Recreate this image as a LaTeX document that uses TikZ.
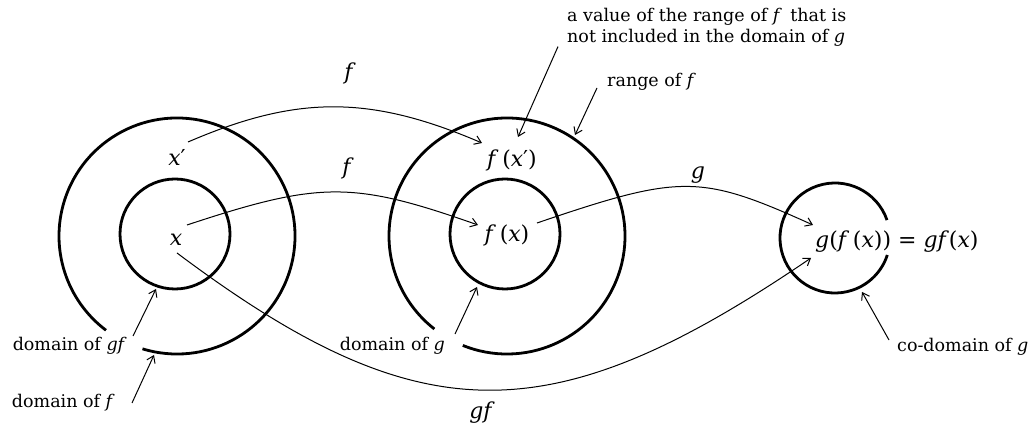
\documentclass[tikz,border=0pt]{standalone}
\usepackage{fontspec}
\setmainfont{DejaVu Serif}
\usetikzlibrary{arrows.meta,calc}
\begin{document}
\begin{tikzpicture}[x=1pt,y=-1pt,
  ring/.style={line width=2.8pt},
  conn/.style={line width=1pt,-{Straight Barb[length=6.5pt,width=9pt,line width=1pt]}},
  lbl/.style={font=\fontsize{17.5}{21}\selectfont, inner sep=0pt},
  mth/.style={font=\fontsize{22}{26}\selectfont, inner sep=0pt}]
\useasboundingbox (0,0) rectangle (1034,427);

% sets
\coordinate (LC) at (177,236);
\coordinate (LI) at (175,234);
\coordinate (MC) at (507,236);
\coordinate (MI) at (505,234);
\coordinate (RC) at (835,238);
\draw[ring] (LC) ++(253:118pt) arc[start angle=253, end angle=593, radius=118pt];
\draw[ring] (LI) circle[radius=55pt];
\draw[ring] (MC) ++(248:118pt) arc[start angle=248, end angle=592, radius=118pt];
\draw[ring] (MI) circle[radius=55pt];
\draw[ring] (RC) ++(19:55pt) arc[start angle=19, end angle=342, radius=55pt];

% elements
\node[mth] (xp) at (177,157) {\textit{x}′};
\node[mth] (x) at (176,240) {\textit{x}};
\node[mth] (fxp) at (512,160) {\textit{f}\,(\textit{x}′)};
\node[mth] (fx) at (507,235) {\textit{f}\,(\textit{x})};
\node[mth, anchor=west] (gfx) at (815,242) {\textit{g}(\textit{f}\,(\textit{x})) = \textit{gf}(\textit{x})};

% function labels
\node[mth] (lf1) at (350,73) {\textit{f}};
\node[mth] (lf2) at (348,168) {\textit{f}};
\node[mth] (lg) at (698,175) {\textit{g}};
\node[mth] (lgf) at (482,413) {\textit{gf}};

% mapping arrows
\draw[conn] ($(xp)+(11,-15)$) .. controls (297,95) and (370,95) .. ($(fxp)+(-30,-17)$);
\draw[conn] ($(x)+(11,-15)$) .. controls (320,181) and (353,181) .. ($(fx)+(-29,-10)$);
\draw[conn] ($(fx)+(30,-12)$) .. controls (681,174) and (700,174) .. ($(gfx.west)+(-2,-17)$);
\draw[conn] ($(x)+(1,13)$) .. controls (420,435) and (551,435) .. ($(gfx.west)+(-4,16)$);

% descriptive labels
\node[lbl, anchor=base east] (ldgf) at (127,351) {domain of \textit{gf}};
\node[lbl, anchor=base east] (ldf) at (115,408) {domain of \textit{f}};
\node[lbl, anchor=base east] (ldg) at (445,351) {domain of \textit{g}};
\node[lbl, anchor=base west] (lcod) at (897,352) {co-domain of \textit{g}};
\node[lbl, anchor=base west] (lrng) at (607,87) {range of \textit{f}};
\node[lbl, anchor=north west, align=left] (lval) at (567,8) {a value of the range of \textit{f}\, that is\\not included in the domain of \textit{g}};

\coordinate (tgf) at (156,289);
\coordinate (tf) at (154,355);
\coordinate (tg) at (477,287);
\coordinate (tval) at (518,137);
\coordinate (trng) at (575,135);
\coordinate (tcod) at (862,292);

\draw[conn] ($(ldgf.base east)+(6,-15)$) -- (tgf);
\draw[conn] ($(ldf.base east)+(17,-5)$) -- (tf);
\draw[conn] ($(ldg.base east)+(10,-17)$) -- (tg);
\draw[conn] ($(lval.south west)+(-9,0)$) -- (tval);
\draw[conn] ($(lrng.base west)+(-10,1)$) -- (trng);
\draw[conn] ($(lcod.base west)+(-8,-12)$) -- (tcod);
\end{tikzpicture}
\end{document}
